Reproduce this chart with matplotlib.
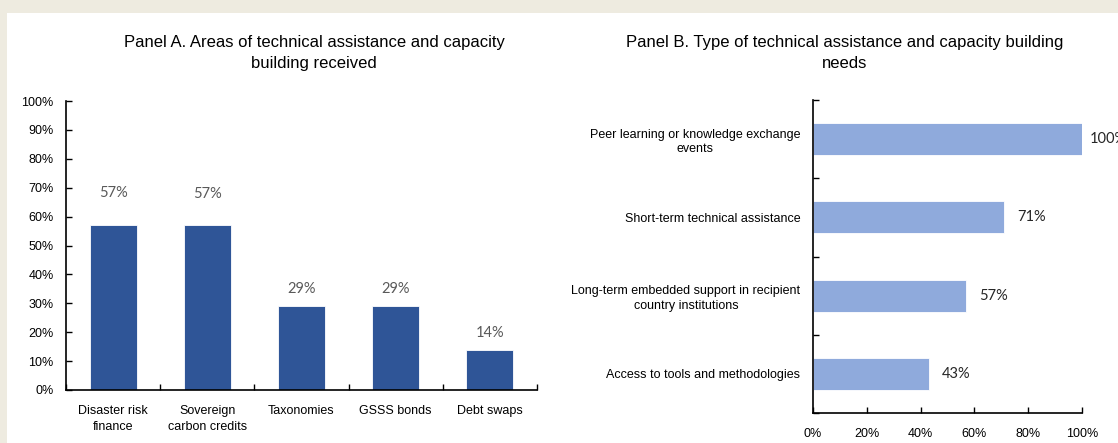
import matplotlib
matplotlib.use("Agg")
import matplotlib.pyplot as plt
from matplotlib.patches import Rectangle
from matplotlib.ticker import FixedLocator, PercentFormatter

# Panel A data: areas of technical assistance received (% of respondents)
areas = ["Disaster risk\nfinance", "Sovereign\ncarbon credits", "Taxonomies",
         "GSSS bonds", "Debt swaps"]
areas_share = [57, 57, 29, 29, 14]

# Panel B data: type of technical assistance needed (% of respondents)
needs = ["Peer learning or knowledge exchange\nevents",
         "Short-term technical assistance",
         "Long-term embedded support in recipient\ncountry institutions",
         "Access to tools and methodologies"]
needs_share = [100, 71, 57, 43]

title_a = "Panel A. Areas of technical assistance and capacity\nbuilding received"
title_b = "Panel B. Type of technical assistance and capacity building\nneeds"

TEXT_FONT = ["Liberation Sans", "DejaVu Sans"]
LABEL_FONT = ["Lato", "DejaVu Sans"]
DARK_BLUE = "#2F5597"
LIGHT_BLUE = "#8FAADC"
FRAME = "#EEEBE0"

fig = plt.figure(figsize=(11.18, 4.43), dpi=100)
fig.patch.set_facecolor("white")

# beige frame along the top and left edges
fig.add_artist(Rectangle((0, 1 - 13 / 443), 1, 13 / 443, transform=fig.transFigure,
                         facecolor=FRAME, edgecolor="none", zorder=0))
fig.add_artist(Rectangle((0, 0), 7 / 1118, 1, transform=fig.transFigure,
                         facecolor=FRAME, edgecolor="none", zorder=0))

W, H = 1118, 443


def axes_px(left, top, right, bottom):
    return fig.add_axes([left / W, 1 - bottom / H, (right - left) / W, (bottom - top) / H])


def style_spines(ax):
    for s in ("top", "right"):
        ax.spines[s].set_visible(False)
    for s in ("left", "bottom"):
        ax.spines[s].set_linewidth(1.2)
        ax.spines[s].set_color("black")


# ---------------- Panel A ----------------
axA = axes_px(66, 101, 537, 390)
style_spines(axA)
xa = list(range(len(areas)))
axA.bar(xa, areas_share, width=0.5, color=DARK_BLUE, edgecolor="white", linewidth=0.6)
axA.set_xlim(-0.5, len(areas) - 0.5)
axA.set_ylim(0, 100)
axA.yaxis.set_major_locator(FixedLocator(range(0, 101, 10)))
axA.yaxis.set_major_formatter(PercentFormatter(decimals=0))
axA.tick_params(axis="y", direction="in", length=4, width=1, pad=9, labelsize=9)
axA.xaxis.set_major_locator(FixedLocator([i - 0.5 for i in range(len(areas) + 1)]))
axA.xaxis.set_minor_locator(FixedLocator(xa))
axA.set_xticklabels([], minor=False)
axA.set_xticklabels(areas, minor=True)
axA.tick_params(axis="x", which="major", direction="in", length=4, width=1)
axA.tick_params(axis="x", which="minor", length=0, pad=11, labelsize=9)
for lbl in axA.get_yticklabels():
    lbl.set_fontfamily(TEXT_FONT)
for lbl in axA.get_xticklabels(minor=True):
    lbl.set_fontfamily(TEXT_FONT)
    lbl.set_linespacing(1.45)
label_gap_a = [32, 31, 17, 17, 17]
for x, v, g in zip(xa, areas_share, label_gap_a):
    axA.annotate(f"{v}%", (x, v), xytext=(0, g), textcoords="offset pixels",
                 ha="center", va="center", fontsize=10.5, color="#595959",
                 family=LABEL_FONT)
fig.text(314 / W, 1 - 53 / H, title_a, ha="center", va="center", fontsize=12,
         family=TEXT_FONT, linespacing=1.45)

# ---------------- Panel B ----------------
axB = axes_px(813, 100, 1082, 413)
style_spines(axB)
yb = list(range(len(needs)))
axB.barh(yb, needs_share, height=0.41, color=LIGHT_BLUE, edgecolor="white", linewidth=0.6)
axB.set_ylim(len(needs) - 0.5, -0.5)
axB.set_xlim(0, 100)
axB.xaxis.set_major_locator(FixedLocator(range(0, 101, 20)))
axB.xaxis.set_major_formatter(PercentFormatter(decimals=0))
axB.tick_params(axis="x", direction="in", length=4, width=1, pad=10.5, labelsize=9)
axB.yaxis.set_major_locator(FixedLocator([i - 0.5 for i in range(len(needs) + 1)]))
axB.yaxis.set_minor_locator(FixedLocator(yb))
axB.set_yticklabels([], minor=False)
axB.set_yticklabels(needs, minor=True)
axB.tick_params(axis="y", which="major", direction="in", length=4, width=1)
axB.tick_params(axis="y", which="minor", length=0, pad=9, labelsize=9)
for lbl in axB.get_yticklabels(minor=True):
    lbl.set_multialignment("center")
    lbl.set_linespacing(1.3)
for lbl in axB.get_xticklabels() + axB.get_yticklabels(minor=True):
    lbl.set_fontfamily(TEXT_FONT)
label_gap_b = [8, 13, 13, 13]
for y, v, g in zip(yb, needs_share, label_gap_b):
    axB.annotate(f"{v}%", (v, y), xytext=(g, 0), textcoords="offset pixels",
                 ha="left", va="center", fontsize=10.5, color="#262626",
                 family=LABEL_FONT, annotation_clip=False)
fig.text(845 / W, 1 - 53 / H, title_b, ha="center", va="center", fontsize=12,
         family=TEXT_FONT, linespacing=1.45)

fig.savefig("out.png", dpi=100, facecolor=fig.get_facecolor())
